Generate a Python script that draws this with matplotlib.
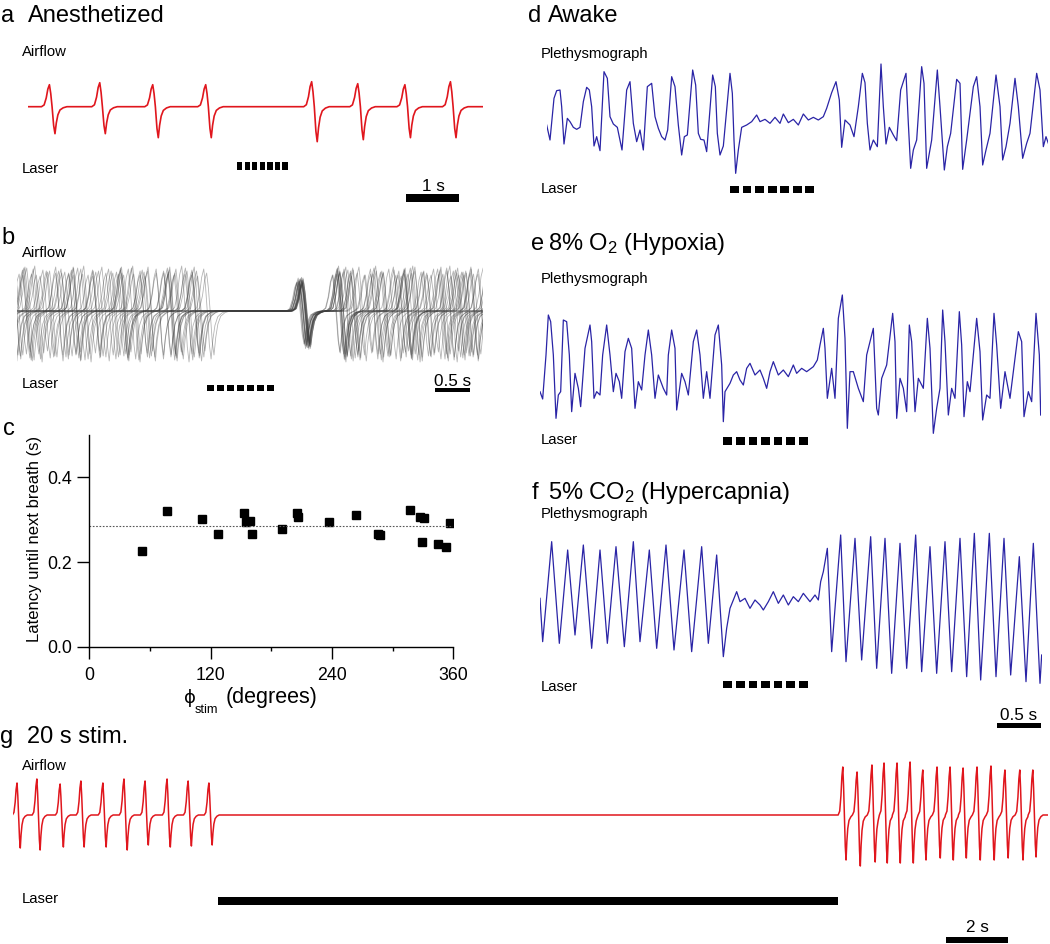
import numpy as np
import matplotlib
matplotlib.use('Agg')
import matplotlib.pyplot as plt

plt.rcParams['font.family'] = ['Liberation Sans', 'DejaVu Sans']
plt.rcParams['mathtext.fontset'] = 'custom'
plt.rcParams['mathtext.rm'] = 'Liberation Sans'
plt.rcParams['mathtext.it'] = 'Liberation Sans:italic'
plt.rcParams['mathtext.bf'] = 'Liberation Sans:bold'

W, H = 1050, 944
RED = '#e0161d'
BLUE = '#2a24a6'
GRAY = '#3c3c3c'

# ------------------------------------------------------------------ data
# laser pulse train (s, relative to laser onset): 7 pulses of 100 ms
LASER_PULSE_ONSETS = [0.0, 0.143, 0.286, 0.429, 0.571, 0.714, 0.857]
LASER_PULSE_WIDTH = 0.1

# airflow breath waveform (s relative to peak, fraction of peak/trough)
AIR_TEMPLATE_DT = [-0.15, -0.10, -0.06, -0.03, 0.0, 0.025, 0.05, 0.08, 0.105, 0.13, 0.16, 0.20, 0.26, 0.33]
AIR_TEMPLATE_FR = [0.0, 0.08, 0.4, 0.8, 1.0, 0.6, 0.0, -0.7, -1.0, -0.6, -0.3, -0.12, -0.04, 0.0]

# panel a (anesthetized airflow), time in s from trace start, amplitude in a.u.
A_DURATION = 8.6
A_PEAK_T = [0.41, 1.36, 2.36, 3.36, 5.36, 6.23, 7.12, 7.98]
A_PEAK_AMP = [22, 24, 22, 22, 25, 23, 22, 25]
A_TROUGH_AMP = [-27, -27, -31, -31, -35, -33, -31, -31]
A_LASER_ON = 3.95

# panel c (latency vs stimulus phase)
PHASE_DEG = [51.8, 76.8, 111.8, 127.6, 153.3, 154.6, 159.2, 160.6, 190.2, 205.1, 206.7,
             236.7, 263.4, 285.2, 287.2, 316.8, 326.7, 331.4, 329.0, 344.9, 352.5, 357.1]
LATENCY_S = [0.225, 0.321, 0.301, 0.265, 0.316, 0.294, 0.298, 0.265, 0.277, 0.316, 0.306,
             0.295, 0.311, 0.267, 0.263, 0.324, 0.306, 0.303, 0.248, 0.243, 0.236, 0.291]

# panel b (overlaid sweeps, one per point of panel c)
B_DURATION = 6.66
B_LASER_ON = 2.714
B_PRE_PERIOD = [0.72, 0.68, 0.75, 0.70, 0.66, 0.74, 0.71, 0.69, 0.77, 0.73, 0.67,
                0.70, 0.76, 0.72, 0.68, 0.74, 0.70, 0.71, 0.69, 0.75, 0.73, 0.67]
B_POST_PERIOD = [0.62, 0.48, 0.71, 0.55, 0.80, 0.45, 0.66, 0.58, 0.75, 0.50, 0.69,
                 0.53, 0.78, 0.47, 0.64, 0.57, 0.73, 0.49, 0.68, 0.60, 0.76, 0.52]
B_PEAK_AMP = [38, 42, 35, 40, 44, 36, 41, 39, 43, 37, 40, 45, 38, 36, 42, 39, 41, 37, 44, 40, 38, 43]
B_TROUGH_AMP = [-44, -48, -40, -46, -50, -42, -47, -45, -49, -43, -46, -51, -44, -41, -48, -45,
                -47, -43, -50, -46, -44, -49]
B_FIRST_BREATH_SCALE = 0.75

# panel d (awake plethysmograph), samples at 264 Hz and amplitude (a.u.)
PLETH_FS = 264.0
D_SAMPLE = [50, 60, 72, 80, 90, 95, 102, 112, 120, 130, 140, 150, 160, 170, 178, 185, 192, 200, 210,
            222, 232, 240, 250, 262, 270, 276, 290, 300, 310, 320, 330, 340, 352, 365, 375, 385,
            395, 405, 413, 425, 435, 445, 455, 463, 472, 488, 497, 505, 512, 522, 530, 548, 556,
            562, 570, 580, 600, 607, 612, 617, 625, 635, 650, 665, 680, 690, 705, 720, 735, 750,
            760, 775, 790, 805, 820, 835, 850, 865, 880, 890, 905, 918, 928, 935, 945, 960, 972,
            985, 997, 1005, 1012, 1020, 1030, 1042, 1053, 1060, 1068, 1078, 1090, 1100, 1112,
            1128, 1135, 1142, 1150, 1160, 1175, 1182, 1190, 1205, 1222, 1230, 1243, 1252, 1262,
            1280, 1290, 1298, 1310, 1330, 1340, 1350, 1358, 1368, 1380, 1398, 1410, 1418, 1428,
            1440, 1455, 1465, 1478, 1490, 1500, 1520, 1530, 1540, 1548, 1555]
D_AMP = [-5, -50, 75, 98, 100, 50, -62, 15, 5, -12, -18, -12, 65, 108, 100, 50, -68, -40, -82,
         155, 135, 20, -2, -12, -50, -80, 100, 125, 0, -55, -20, -80, 110, 120, 20, -15,
         -40, -50, -20, 140, 110, -5, -95, -40, -35, 160, 115, -30, -48, -50, -85, 145, 110,
         -30, -95, -68, 150, 90, -50, -150, -80, -12, -5, 5, 25, 5, 12, 0, 18, 0,
         28, 2, 12, -5, 28, 10, 18, 10, 20, 45, 92, 125, 70, -72, 10, -5, -40,
         50, 150, 122, 0, -80, -50, -70, 178, 50, -62, -12, -35, -52, 100,
         150, 0, -135, -80, -50, 170, 120, -135, -50, 160, 50, -140, -70, -30,
         132, 120, -138, -50, 110, 140, 50, -125, -80, -30, 145, 50, -110, -70,
         0, 135, 50, -105, -60, -30, 150, 100, -70, -40, -60]
D_LASER_ON_SAMPLE = 600

# panel e (8% O2)
E_SAMPLE = [30, 38, 48, 55, 62, 70, 78, 85, 92, 100, 110, 118, 125, 135, 145, 152, 165, 180, 185,
            192, 200, 210, 218, 230, 240, 250, 258, 268, 275, 285, 295, 305, 315, 325, 335, 345,
            355, 365, 375, 385, 400, 410, 415, 425, 435, 440, 455, 465, 475, 490, 500, 510, 520,
            530, 540, 555, 565, 575, 580, 585, 600, 610, 620, 630, 640, 650, 660, 675, 690, 700,
            710, 720, 730, 745, 760, 775, 790, 800, 815, 830, 850, 862, 870, 880, 885, 892, 905,
            915, 925, 937, 945, 952, 960, 970, 985, 1000, 1010, 1030, 1040, 1045, 1055, 1070,
            1088, 1095, 1100, 1110, 1120, 1130, 1138, 1145, 1155, 1165, 1180, 1192, 1200, 1210,
            1220, 1230, 1238, 1245, 1255, 1265, 1275, 1288, 1295, 1302, 1312, 1320, 1340, 1350,
            1358, 1370, 1380, 1392, 1400, 1412, 1425, 1440, 1465, 1475, 1482, 1495, 1505, 1518,
            1528, 1532]
E_AMP = [-30, -52, 80, 200, 180, 80, -110, -40, -30, 185, 180, 80, -90, 25, -20, -75, 100, 170, 120,
         -50, -30, -40, 80, 170, 80, -30, 25, 0, -50, 90, 130, 100, -80, 0, -25, 80,
         155, 80, -50, 20, -20, -40, 80, 155, 100, -85, 25, 0, -40, 120, 155, 80, -50,
         30, -50, 140, 170, 50, -120, -30, -5, 20, 30, 5, -10, 40, 55, 20, 35, 10,
         -20, 30, 60, 20, 35, 15, 50, 25, 40, 30, 45, 65, 110, 160, 100, -50, 40,
         -50, 190, 260, 130, -140, 30, 30, -20, -60, 80, 160, -80, -100, 10, 50,
         205, 120, -110, 10, -20, -90, 170, 120, -90, 10, -20, 190, 100, -155,
         -80, -20, 215, 120, -100, -20, -50, 210, 110, -105, 0, -30, 190, 90,
         -115, -40, -50, 205, 110, -80, 30, -50, 150, 120, -105, -30, -60, 205,
         80, -100]
E_LASER_ON_SAMPLE = 580

# panel f (5% CO2)
F_SAMPLE = [30, 38, 65, 88, 113, 135, 160, 185, 210, 232, 258, 283, 310, 330, 358, 380, 408, 432,
            462, 485, 515, 535, 560, 580, 590, 600, 612, 620, 630, 645, 660, 675, 690, 700, 715,
            730, 745, 760, 775, 790, 805, 820, 840, 855, 865, 872, 880, 892, 905, 932, 948, 975,
            995, 1022, 1040, 1065, 1085, 1110, 1130, 1157, 1175, 1200, 1220, 1245, 1265, 1290,
            1310, 1333, 1352, 1378, 1398, 1422, 1442, 1468, 1488, 1510, 1530, 1535]
F_AMP = [10, -120, 180, -125, 155, -100, 170, -140, 155, -125, 165, -135, 180, -120, 155, -140, 170, -145,
         155, -150, 165, -125, 140, -165, -80, -20, 10, 30, 0, 10, -20, 5, -10, -25, 0,
         30, -5, 20, -10, 15, 0, 25, 0, 20, 5, 60, 90, 160, -150, 200, -180, 190,
         -175, 195, -200, 190, -215, 175, -200, 200, -210, 165, -215, 180, -210, 190,
         -225, 205, -235, 205, -225, 190, -220, 135, -240, 175, -245, -160]
F_LASER_ON_SAMPLE = 580

# panel g (20 s stimulation), time in s from trace start
G_DURATION = 33.39
G_PEAK_T = [0.13, 0.77, 1.52, 2.19, 2.90, 3.58, 4.26, 4.97, 5.65, 6.32,
            26.77, 27.23, 27.71, 28.10, 28.52, 28.94, 29.35, 29.81, 30.23, 30.65,
            31.10, 31.55, 32.00, 32.48, 32.90]
G_PEAK_AMP = [32, 36, 31, 34, 32, 36, 34, 36, 34, 32,
              48, 43, 50, 52, 52, 53, 45, 48, 48, 47, 48, 49, 45, 45, 45]
G_TROUGH_AMP = [-33, -35, -32, -32, -32, -35, -30, -32, -31, -30,
                -45, -51, -47, -48, -48, -48, -45, -43, -45, -43, -45, -45, -43, -45, -42]
G_LASER_ON = 6.62
G_LASER_DURATION = 20.0

# ------------------------------------------------------------------ helpers
fig = plt.figure(figsize=(W / 100, H / 100), dpi=100)


def add_ax(left, right, top, bottom):
    return fig.add_axes([left / W, 1 - bottom / H, (right - left) / W, (bottom - top) / H])


def ftext(x, y, s, size=10.7, **kw):
    ha = kw.pop('ha', 'left')
    va = kw.pop('va', 'baseline')
    return fig.text(x / W, 1 - y / H, s, fontsize=size, ha=ha, va=va, **kw)


def airflow(peaks, pamp, tamp, t_end, t_start=-1.0):
    ts, ys = [t_start], [0.0]
    order = list(np.argsort(peaks))
    for i, k in enumerate(order):
        tp = peaks[k]
        nxt = peaks[order[i + 1]] + AIR_TEMPLATE_DT[0] if i + 1 < len(order) else np.inf
        for dt, fr in zip(AIR_TEMPLATE_DT, AIR_TEMPLATE_FR):
            t = tp + dt
            if t >= nxt:
                break
            if t <= ts[-1]:
                continue
            ts.append(t)
            ys.append(fr * pamp[k] if fr >= 0 else -fr * tamp[k])
    ts.append(t_end + 1.0)
    ys.append(0.0)
    return np.array(ts), np.array(ys)


def laser(ax, onset, y0, h):
    ax.broken_barh([(onset + o, LASER_PULSE_WIDTH) for o in LASER_PULSE_ONSETS], (y0, h),
                   facecolor='black', edgecolor='none')


def scalebar(ax, t0, length, y0, h, label, ytext):
    ax.broken_barh([(t0, length)], (y0, h), facecolor='black', edgecolor='none')
    ax.text(t0 + length / 2, ytext, label, ha='center', va='baseline', fontsize=12.3)


# ------------------------------------------------------------------ panel a
ax_a = add_ax(27.7, 483.3, 60, 210)
ax_a.set_xlim(0, A_DURATION)
ax_a.set_ylim(-103.3, 46.7)
ax_a.axis('off')
t, y = airflow(A_PEAK_T, A_PEAK_AMP, A_TROUGH_AMP, A_DURATION)
ax_a.plot(t, y, color=RED, lw=1.2)
laser(ax_a, A_LASER_ON, -63.3, 8)
scalebar(ax_a, 7.15, 1.0, -95.3, 8, '1 s', -84.3)

# ------------------------------------------------------------------ panel b
ax_b = add_ax(17, 483, 230, 400)
ax_b.set_xlim(0, B_DURATION)
ax_b.set_ylim(-89, 81)
ax_b.axis('off')
b_laser_off = B_LASER_ON + LASER_PULSE_ONSETS[-1] + LASER_PULSE_WIDTH
for i in range(len(PHASE_DEG)):
    P = B_PRE_PERIOD[i]
    last_peak = B_LASER_ON - PHASE_DEG[i] / 360.0 * P + 0.1
    pre = [last_peak - k * P for k in range(15) if last_peak - k * P > -0.4]
    first_post = b_laser_off + LATENCY_S[i] + 0.1
    Q = B_POST_PERIOD[i]
    post = [first_post + k * Q for k in range(30) if first_post + k * Q < B_DURATION + 0.4]
    peaks = pre + post
    pamp = [B_PEAK_AMP[i]] * len(pre) + [B_PEAK_AMP[i] * B_FIRST_BREATH_SCALE] + \
        [B_PEAK_AMP[i]] * (len(post) - 1)
    tamp = [B_TROUGH_AMP[i]] * len(pre) + [B_TROUGH_AMP[i] * B_FIRST_BREATH_SCALE] + \
        [B_TROUGH_AMP[i]] * (len(post) - 1)
    t, y = airflow(peaks, pamp, tamp, B_DURATION)
    ax_b.plot(t, y, color=GRAY, lw=0.6, alpha=0.38)
laser(ax_b, B_LASER_ON, -80, 6)
scalebar(ax_b, 5.97, 0.5, -81, 4.5, '0.5 s', -75.5)

# ------------------------------------------------------------------ panel c
ax_c = add_ax(89.3, 453.3, 435, 646.7)
ax_c.plot(PHASE_DEG, LATENCY_S, 's', color='black', ms=5.2, mec='black')
mean_lat = float(np.mean(LATENCY_S))
ax_c.plot([0, 360], [mean_lat, mean_lat], color='#555555', lw=0.8, ls=(0, (1.5, 1.5)))
ax_c.set_xlim(0, 360)
ax_c.set_ylim(0, 0.5)
ax_c.set_xticks([0, 120, 240, 360])
ax_c.set_xticks([60, 180, 300], minor=True)
ax_c.set_yticks([0.0, 0.2, 0.4])
ax_c.set_yticklabels(['0.0', '0.2', '0.4'])
for s in ['top', 'right']:
    ax_c.spines[s].set_visible(False)
for s in ['left', 'bottom']:
    ax_c.spines[s].set_linewidth(1.0)
ax_c.tick_params(axis='y', length=8.6, width=1.0, pad=4, labelsize=12.8)
ax_c.tick_params(axis='x', which='major', length=8.6, width=1.0, pad=6, labelsize=12.8)
ax_c.tick_params(axis='x', which='minor', length=3, width=1.0)
ftext(35, 539, 'Latency until next breath (s)', 12, rotation=90, ha='center', va='center')
ftext(184, 703, '\u03d5', 13, family=['DejaVu Sans'])
ftext(195, 713, 'stim', 9.2)
ftext(226, 703, '(degrees)', 15.5)

# ------------------------------------------------------------------ panels d, e, f
def pleth_panel(samples, amp, left, right, top, bottom, ylim):
    ax = add_ax(left, right, top, bottom)
    ax.set_xlim(samples[0] / PLETH_FS, samples[-1] / PLETH_FS)
    ax.set_ylim(*ylim)
    ax.axis('off')
    ax.plot(np.array(samples) / PLETH_FS, amp, color=BLUE, lw=0.9)
    return ax


ax_d = pleth_panel(D_SAMPLE, D_AMP, 530 + 50 / 3, 530 + 1555 / 3, 40, 210, (-260, 250))
laser(ax_d, D_LASER_ON_SAMPLE / PLETH_FS, -208, 20)

ax_e = pleth_panel(E_SAMPLE, E_AMP, 530 + 30 / 3, 530 + 1532 / 3, 255, 455, (-220, 380))
laser(ax_e, E_LASER_ON_SAMPLE / PLETH_FS, -190, 25)

ax_f = pleth_panel(F_SAMPLE, F_AMP, 530 + 30 / 3, 530 + 1535 / 3, 495, 735, (-400, 320))
laser(ax_f, F_LASER_ON_SAMPLE / PLETH_FS, -260, 22)
scalebar(ax_f, 1401 / PLETH_FS, 0.5, -379, 15, '0.5 s', -355)

# ------------------------------------------------------------------ panel g
ax_g = add_ax(13, 1048, 690, 944)
ax_g.set_xlim(0, G_DURATION)
ax_g.set_ylim(-129, 125)
ax_g.axis('off')
t, y = airflow(G_PEAK_T, G_PEAK_AMP, G_TROUGH_AMP, G_DURATION)
ax_g.plot(t, y, color=RED, lw=1.1)
ax_g.broken_barh([(G_LASER_ON, G_LASER_DURATION)], (-90, 8), facecolor='black', edgecolor='none')
scalebar(ax_g, 30.10, 2.0, -128, 6, '2 s', -117)

# ------------------------------------------------------------------ labels
ftext(1, 22, 'a', 17)
ftext(28, 22, 'Anesthetized', 17)
ftext(22, 56, 'Airflow')
ftext(22, 173, 'Laser')
ftext(1, 244, 'b', 17)
ftext(22, 257, 'Airflow')
ftext(22, 388, 'Laser')
ftext(3, 435, 'c', 17)
ftext(528, 22, 'd', 17)
ftext(548, 22, 'Awake', 17)
ftext(541, 58, 'Plethysmograph')
ftext(541, 193, 'Laser')
ftext(531, 250, 'e', 17)
ftext(548, 250, r'8% O$_2$ (Hypoxia)', 17)
ftext(541, 283, 'Plethysmograph')
ftext(541, 444, 'Laser')
ftext(532, 499, 'f', 17)
ftext(548, 499, r'5% CO$_2$ (Hypercapnia)', 17)
ftext(541, 518, 'Plethysmograph')
ftext(541, 691, 'Laser')
ftext(0, 743, 'g', 17)
ftext(27, 743, '20 s stim.', 17)
ftext(22, 770, 'Airflow')
ftext(22, 903, 'Laser')

fig.savefig('out.png', dpi=100)
